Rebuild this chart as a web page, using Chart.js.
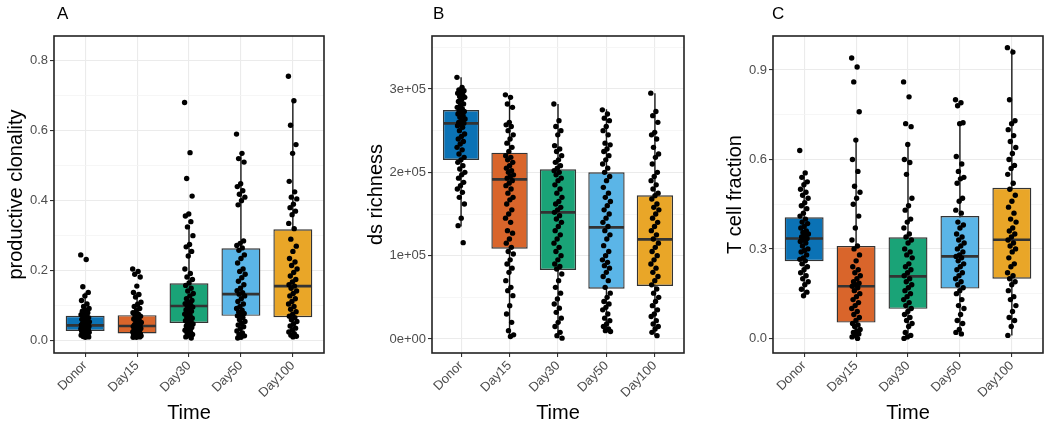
<!DOCTYPE html>
<html>
<head>
    <title>Clonality, richness and T cell fraction by time</title>
    <script src="https://cdn.jsdelivr.net/npm/chart.js@4/dist/chart.umd.min.js"></script>
    <style>
        body { margin: 0; background: #fff; }
        #wrap { position: relative; width: 1050px; height: 425px; }
        canvas { position: absolute; top: 0; }
    </style>
</head>
<body>
<div id="wrap">
    <canvas id="panelA" width="350" height="425" style="left:0px"></canvas>
    <canvas id="panelB" width="350" height="425" style="left:350px"></canvas>
    <canvas id="panelC" width="350" height="425" style="left:700px"></canvas>
</div>

<script>
// categories and box colours
const categories = ['Donor', 'Day15', 'Day30', 'Day50', 'Day100'];
const boxColors = ['#0B72B5', '#D9652B', '#1AA377', '#5BB5E7', '#E9A628'];

// A - productive clonality
const clonalityQ1 = [0.028, 0.021, 0.051, 0.071, 0.067];
const clonalityMed = [0.044, 0.042, 0.099, 0.133, 0.156];
const clonalityQ3 = [0.071, 0.073, 0.164, 0.264, 0.318];
const clonalityLo = [0.010, 0.010, 0.008, 0.008, 0.011];
const clonalityHi = [0.138, 0.138, 0.330, 0.535, 0.685];
const clonalityPts = [
    [0.245,0.232,0.154,0.138,0.128,0.115,0.105,0.098,0.092,0.088,0.084,0.08,0.077,0.074,0.071,0.069,0.066,0.063,0.061,0.058,0.056,0.054,0.052,0.05,0.048,0.046,0.045,0.044,0.043,0.041,0.04,0.038,0.037,0.035,0.034,0.032,0.031,0.03,0.029,0.028,0.027,0.025,0.024,0.022,0.021,0.019,0.018,0.016,0.014,0.012,0.011,0.01],
    [0.205,0.198,0.19,0.182,0.156,0.138,0.132,0.125,0.11,0.104,0.098,0.092,0.086,0.08,0.076,0.073,0.07,0.066,0.062,0.058,0.055,0.052,0.049,0.046,0.044,0.042,0.041,0.039,0.037,0.035,0.033,0.031,0.029,0.027,0.025,0.023,0.021,0.02,0.019,0.017,0.016,0.015,0.014,0.013,0.012,0.011,0.01,0.01],
    [0.68,0.537,0.463,0.413,0.362,0.356,0.34,0.325,0.3,0.275,0.268,0.255,0.242,0.205,0.192,0.182,0.175,0.165,0.158,0.15,0.142,0.135,0.128,0.12,0.115,0.11,0.106,0.102,0.099,0.096,0.092,0.088,0.084,0.08,0.076,0.072,0.068,0.064,0.06,0.057,0.054,0.051,0.048,0.045,0.042,0.038,0.034,0.03,0.026,0.022,0.018,0.014,0.011,0.008],
    [0.59,0.535,0.52,0.51,0.448,0.44,0.428,0.418,0.41,0.4,0.388,0.285,0.278,0.272,0.265,0.258,0.245,0.235,0.222,0.205,0.198,0.19,0.18,0.17,0.16,0.15,0.143,0.137,0.133,0.128,0.12,0.112,0.105,0.098,0.092,0.087,0.082,0.078,0.074,0.071,0.066,0.06,0.055,0.05,0.045,0.04,0.034,0.028,0.022,0.018,0.014,0.01,0.008],
    [0.755,0.685,0.615,0.56,0.535,0.455,0.425,0.41,0.405,0.39,0.38,0.37,0.36,0.335,0.32,0.29,0.27,0.255,0.235,0.225,0.215,0.205,0.195,0.185,0.175,0.168,0.16,0.156,0.15,0.142,0.135,0.128,0.12,0.112,0.105,0.098,0.09,0.083,0.076,0.07,0.066,0.06,0.055,0.048,0.042,0.036,0.03,0.025,0.02,0.016,0.013,0.011]
];
const clonalityTicks = [0, 0.2, 0.4, 0.6, 0.8];
const clonalityTickLabels = ['0.0', '0.2', '0.4', '0.6', '0.8'];

// B - ds richness
const richnessQ1 = [214.8e3, 108.4e3, 82.8e3, 60.4e3, 63.6e3];
const richnessMed = [258.8e3, 191.6e3, 152e3, 134e3, 119.6e3];
const richnessQ3 = [274.8e3, 223.6e3, 203.6e3, 200e3, 172.4e3];
const richnessLo = [135e3, 2.8e3, 0.8e3, 8.8e3, 3.6e3];
const richnessHi = [314e3, 292.8e3, 282e3, 275.6e3, 294.8e3];
const richnessPts = [
    [314e3,302e3,299e3,298e3,297e3,295e3,293e3,291e3,290e3,287e3,285e3,282e3,280e3,278e3,276e3,274e3,273e3,272e3,270e3,268e3,266e3,264e3,262e3,260e3,259e3,258e3,256e3,254e3,250e3,246e3,243e3,240e3,237e3,234e3,230e3,227e3,222e3,218e3,215e3,212e3,208e3,204e3,200e3,197e3,193e3,188e3,184e3,180e3,176e3,170e3,162e3,145e3,136e3,115.6e3],
    [293e3,290e3,282e3,278e3,260e3,257e3,255e3,250e3,245e3,240e3,235e3,230e3,225e3,220e3,218e3,215e3,212e3,208e3,205e3,202e3,200e3,197e3,195e3,193e3,190e3,187e3,184e3,180e3,175e3,170e3,167e3,162e3,155e3,150e3,145e3,140e3,130e3,127e3,120e3,115e3,110e3,105e3,102e3,95e3,90e3,85e3,80e3,70e3,62e3,58e3,52e3,40e3,30e3,20e3,10e3,5e3,3e3],
    [282e3,262e3,255e3,250e3,245e3,232e3,228e3,225e3,220e3,215e3,212e3,208e3,205e3,202e3,200e3,197e3,193e3,190e3,185e3,180e3,175e3,170e3,165e3,162e3,158e3,155e3,152e3,148e3,144e3,140e3,135e3,130e3,125e3,120e3,115e3,110e3,105e3,100e3,95e3,90e3,87e3,84e3,78e3,70e3,62e3,55e3,48e3,42e3,37e3,32e3,25e3,20e3,15e3,8e3,4e3,1e3],
    [275e3,270e3,265e3,262e3,255e3,250e3,245e3,235e3,233e3,228e3,225e3,220e3,215e3,210e3,205e3,200e3,195e3,190e3,182e3,175e3,170e3,165e3,160e3,155e3,150e3,145e3,140e3,135e3,130e3,125e3,120e3,112e3,105e3,100e3,95e3,92e3,88e3,85e3,80e3,75e3,70e3,62e3,55e3,50e3,45e3,42e3,38e3,35e3,30e3,25e3,22e3,18e3,15e3,12e3,10e3,9e3],
    [295e3,273e3,268e3,260e3,248e3,245e3,240e3,230e3,222e3,218e3,210e3,200e3,195e3,190e3,185e3,180e3,175e3,172e3,168e3,162e3,158e3,155e3,150e3,145e3,140e3,135e3,130e3,125e3,120e3,115e3,110e3,105e3,100e3,95e3,90e3,85e3,80e3,75e3,70e3,65e3,60e3,55e3,50e3,45e3,40e3,35e3,30e3,27e3,22e3,18e3,15e3,12e3,8e3,4e3]
];
const richnessTicks = [0, 100000, 200000, 300000];
const richnessTickLabels = ['0e+00', '1e+05', '2e+05', '3e+05'];

// C - T cell fraction
const tcellQ1 = [0.259, 0.053, 0.099, 0.167, 0.200];
const tcellMed = [0.335, 0.175, 0.208, 0.275, 0.331];
const tcellQ3 = [0.406, 0.310, 0.339, 0.410, 0.505];
const tcellLo = [0.143, 0.000, 0.000, 0.015, 0.010];
const tcellHi = [0.556, 0.664, 0.651, 0.723, 0.971];
const tcellPts = [
    [0.63,0.555,0.54,0.525,0.515,0.5,0.49,0.48,0.47,0.455,0.445,0.435,0.42,0.41,0.4,0.39,0.385,0.375,0.37,0.36,0.355,0.35,0.345,0.34,0.335,0.33,0.325,0.32,0.31,0.3,0.295,0.29,0.28,0.27,0.265,0.26,0.25,0.24,0.23,0.22,0.21,0.2,0.19,0.18,0.165,0.155,0.143],
    [0.94,0.91,0.86,0.76,0.665,0.6,0.56,0.51,0.49,0.47,0.45,0.41,0.37,0.33,0.31,0.3,0.28,0.26,0.24,0.23,0.22,0.21,0.2,0.19,0.185,0.18,0.175,0.17,0.16,0.15,0.14,0.13,0.12,0.11,0.1,0.09,0.08,0.07,0.06,0.05,0.045,0.04,0.03,0.025,0.02,0.015,0.01,0.005,0.0],
    [0.86,0.81,0.72,0.71,0.65,0.6,0.59,0.55,0.47,0.445,0.43,0.4,0.39,0.37,0.35,0.34,0.33,0.32,0.3,0.29,0.28,0.27,0.25,0.24,0.23,0.22,0.21,0.2,0.19,0.18,0.17,0.16,0.15,0.14,0.13,0.12,0.11,0.1,0.09,0.08,0.07,0.06,0.05,0.04,0.02,0.01,0.005,0.0],
    [0.8,0.79,0.78,0.723,0.72,0.61,0.585,0.56,0.54,0.535,0.52,0.47,0.46,0.43,0.42,0.39,0.38,0.37,0.35,0.34,0.33,0.32,0.31,0.3,0.29,0.28,0.275,0.27,0.26,0.25,0.24,0.23,0.22,0.21,0.2,0.19,0.18,0.17,0.16,0.15,0.13,0.11,0.1,0.08,0.06,0.05,0.03,0.02,0.015],
    [0.975,0.96,0.8,0.73,0.72,0.7,0.68,0.66,0.64,0.62,0.6,0.58,0.57,0.55,0.52,0.5,0.48,0.46,0.44,0.42,0.4,0.39,0.37,0.36,0.35,0.34,0.33,0.32,0.31,0.3,0.29,0.27,0.25,0.24,0.22,0.21,0.2,0.19,0.18,0.16,0.14,0.13,0.11,0.09,0.07,0.06,0.04,0.01]
];
const tcellTicks = [0, 0.3, 0.6, 0.9];
const tcellTickLabels = ['0.0', '0.3', '0.6', '0.9'];

const FONT = "'Liberation Sans', Arial, sans-serif";
const BOX_WIDTH = 0.75;

// frame round the panel + the letter tag
const panelDecor = {
    id: 'panelDecor',
    afterDraw(chart, args, opts) {
        const {ctx, chartArea: a} = chart;
        ctx.save();
        ctx.strokeStyle = '#222';
        ctx.lineWidth = 1.6;
        ctx.strokeRect(a.left, a.top, a.right - a.left, a.bottom - a.top);
        ctx.fillStyle = '#000';
        ctx.font = '17px ' + FONT;
        ctx.textBaseline = 'alphabetic';
        ctx.fillText(opts.tag, opts.tagX, 18.5);
        ctx.restore();
    }
};

// small fixed jitter so the points sit beside each other
function jitter(i) {
    return (((i * 0.6180339887) % 1) - 0.5) * 0.17;
}

function makePanel(id, p) {
    const majors = p.ticks;
    const step = majors[1] - majors[0];
    const allTicks = [];
    majors.forEach(v => allTicks.push(v));
    for (let v = majors[0] - step / 2; v <= p.yMax; v += step) {
        if (v >= p.yMin) allTicks.push(v);
    }
    const isMajor = v => majors.some(m => Math.abs(m - v) < step * 1e-6);

    const points = [];
    p.pts.forEach((arr, g) => arr.forEach((y, i) => points.push({x: g + jitter(i), y: y})));

    const whiskers = [];
    categories.forEach((c, g) => {
        whiskers.push({x: g, y: p.lo[g]}, {x: g, y: p.hi[g]}, {x: g + 0.5, y: null});
    });

    new Chart(document.getElementById(id), {
        type: 'bar',
        data: {
            datasets: [
                {
                    type: 'line',
                    data: whiskers,
                    borderColor: '#1a1a1a',
                    borderWidth: 1.4,
                    pointRadius: 0,
                    spanGaps: false,
                    order: 4
                },
                {
                    type: 'bar',
                    data: categories.map((c, g) => ({x: g, y: [p.q1[g], p.q3[g]]})),
                    backgroundColor: boxColors,
                    borderColor: '#333',
                    borderWidth: 1.4,
                    borderSkipped: false,
                    categoryPercentage: 1,
                    barPercentage: BOX_WIDTH,
                    order: 3
                },
                {
                    type: 'scatter',
                    data: categories.map((c, g) => ({x: g, y: p.med[g]})),
                    pointStyle: 'line',
                    borderColor: '#333',
                    borderWidth: 2.6,
                    pointRadius: ctx => {
                        const x = ctx.chart.scales.x;
                        return Math.abs(x.getPixelForValue(BOX_WIDTH / 2) - x.getPixelForValue(0)) - 0.6;
                    },
                    order: 2
                },
                {
                    type: 'scatter',
                    data: points,
                    backgroundColor: '#000',
                    borderWidth: 0,
                    pointRadius: 2.7,
                    order: 1
                }
            ]
        },
        options: {
            responsive: false,
            animation: false,
            events: [],
            devicePixelRatio: 1,
            layout: { padding: { left: p.padLeft, right: p.padRight, top: 36, bottom: 0 } },
            plugins: {
                legend: { display: false },
                tooltip: { enabled: false },
                panelDecor: { tag: p.tag, tagX: p.tagX }
            },
            scales: {
                x: {
                    type: 'linear',
                    min: -0.6,
                    max: 4.6,
                    offset: false,
                    afterBuildTicks: s => { s.ticks = categories.map((c, g) => ({value: g})); },
                    afterFit: s => { s.height = 72; },
                    grid: {
                        offset: false,
                        color: '#EBEBEB',
                        lineWidth: 1.1,
                        tickColor: '#333',
                        tickLength: 4
                    },
                    border: { display: false },
                    ticks: {
                        autoSkip: false,
                        minRotation: 45,
                        maxRotation: 45,
                        padding: 1,
                        color: '#4D4D4D',
                        font: { family: FONT, size: 13 },
                        callback: v => categories[Math.round(v)]
                    },
                    title: {
                        display: true,
                        text: 'Time',
                        color: '#000',
                        padding: 0,
                        font: { family: FONT, size: 20 }
                    }
                },
                y: {
                    type: 'linear',
                    min: p.yMin,
                    max: p.yMax,
                    afterBuildTicks: s => { s.ticks = allTicks.slice().sort((a, b) => a - b).map(v => ({value: v})); },
                    afterFit: s => { s.width = p.yWidth; },
                    grid: {
                        color: c => isMajor(c.tick.value) ? '#EBEBEB' : '#F4F4F4',
                        lineWidth: c => isMajor(c.tick.value) ? 1.1 : 0.8,
                        tickColor: c => isMajor(c.tick.value) ? '#333' : 'rgba(0,0,0,0)',
                        tickLength: 4
                    },
                    border: { display: false },
                    ticks: {
                        autoSkip: false,
                        padding: 2,
                        color: '#4D4D4D',
                        font: { family: FONT, size: 13 },
                        callback: v => {
                            const k = majors.findIndex(m => Math.abs(m - v) < step * 1e-6);
                            return k >= 0 ? p.labels[k] : '';
                        }
                    },
                    title: {
                        display: true,
                        text: p.title,
                        color: '#000',
                        padding: 0,
                        font: { family: FONT, size: 20 }
                    }
                }
            }
        },
        plugins: [panelDecor]
    });
}

makePanel('panelA', {
    tag: 'A', tagX: 57,
    title: 'productive clonality',
    q1: clonalityQ1, med: clonalityMed, q3: clonalityQ3, lo: clonalityLo, hi: clonalityHi, pts: clonalityPts,
    ticks: clonalityTicks, labels: clonalityTickLabels,
    yMin: -0.035, yMax: 0.87,
    padLeft: 4, yWidth: 50, padRight: 26
});

makePanel('panelB', {
    tag: 'B', tagX: 83,
    title: 'ds richness',
    q1: richnessQ1, med: richnessMed, q3: richnessQ3, lo: richnessLo, hi: richnessHi, pts: richnessPts,
    ticks: richnessTicks, labels: richnessTickLabels,
    yMin: -16800, yMax: 363600,
    padLeft: 14, yWidth: 68, padRight: 16
});

makePanel('panelC', {
    tag: 'C', tagX: 72,
    title: 'T cell fraction',
    q1: tcellQ1, med: tcellMed, q3: tcellQ3, lo: tcellLo, hi: tcellHi, pts: tcellPts,
    ticks: tcellTicks, labels: tcellTickLabels,
    yMin: -0.049, yMax: 1.014,
    padLeft: 23, yWidth: 50, padRight: 7
});
</script>
</body>
</html>
